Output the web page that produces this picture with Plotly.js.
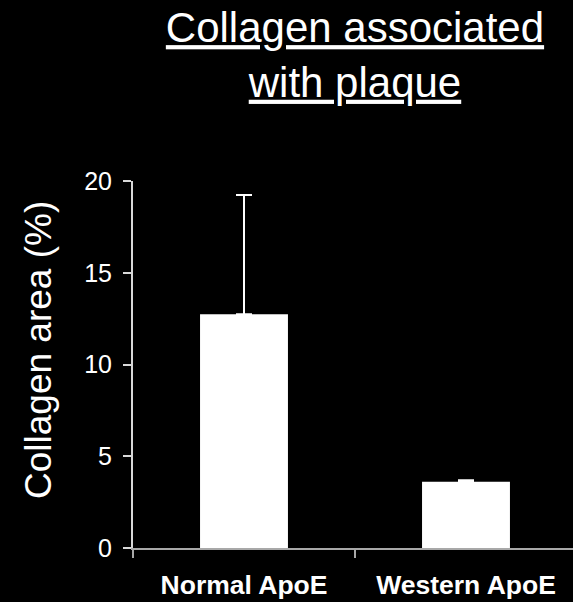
<!DOCTYPE html>
<html>
<head>
<meta charset="utf-8">
<script src="https://cdn.plot.ly/plotly-3.0.1.min.js"></script>
<style>html,body{margin:0;padding:0;background:#000;}</style>
</head>
<body>
<div id="chart" style="width:573px;height:602px;"></div>
<script>
const categories = ["Normal ApoE", "Western ApoE"];
const values = [12.74, 3.61];
const errors = [6.5, 0.08];
const yTicks = [0, 5, 10, 15, 20];

const trace = {
  type: "bar",
  x: categories,
  y: values,
  marker: {color: "#ffffff", line: {width: 0}},
  error_y: {type: "data", array: errors, symmetric: false, arrayminus: [0, 0], color: "#ffffff", thickness: 2, width: 8},
  hoverinfo: "none"
};

const layout = {
  width: 573,
  height: 602,
  paper_bgcolor: "#000000",
  plot_bgcolor: "#000000",
  margin: {l: 133, r: 0, t: 181, b: 54},
  bargap: 0.604,
  showlegend: false,
  font: {family: "Liberation Sans, Arial, sans-serif", color: "#ffffff"},
  title: {
    text: "<u>Collagen associated</u><br><u>with plaque</u>",
    font: {size: 42, color: "#ffffff", family: "Liberation Sans, Arial, sans-serif"},
    xref: "paper", x: 0.5045, xanchor: "center",
    yref: "container", y: 0.93, yanchor: "top"
  },
  xaxis: {
    type: "category",
    range: [-0.5, 1.482],
    showline: true, linecolor: "#a8a8a8", linewidth: 2,
    ticks: "outside", tickson: "boundaries", ticklen: 8, tickcolor: "#a8a8a8", tickwidth: 2,
    tickfont: {size: 26.5, color: "#ffffff", weight: "bold"},
    ticklabelstandoff: 12,
    showgrid: false, zeroline: false, fixedrange: true
  },
  yaxis: {
    range: [0, 20],
    tickvals: yTicks,
    ticktext: yTicks.map(String),
    showline: true, linecolor: "#d8d8d8", linewidth: 2,
    ticks: "outside", ticklen: 8, tickcolor: "#d8d8d8", tickwidth: 2,
    tickfont: {size: 25, color: "#ffffff"},
    ticklabelstandoff: 6,
    showgrid: false, zeroline: false, fixedrange: true
  },
  annotations: [{
    text: "Collagen area (%)",
    textangle: -90,
    font: {size: 37, color: "#ffffff"},
    xref: "paper", yref: "paper",
    x: -0.2159, y: 0.5395,
    xanchor: "center", yanchor: "middle",
    showarrow: false
  }]
};

Plotly.newPlot("chart", [trace], layout, {displayModeBar: false, staticPlot: true});
</script>
</body>
</html>
